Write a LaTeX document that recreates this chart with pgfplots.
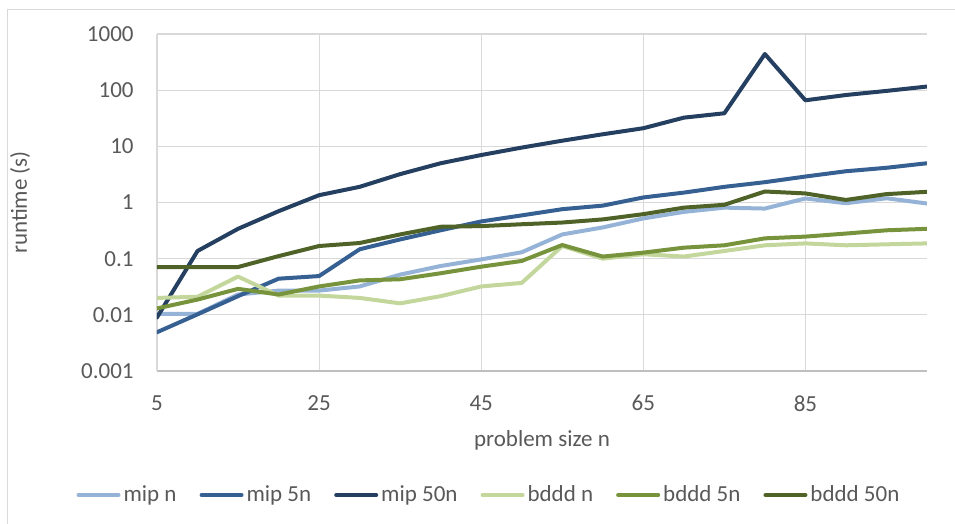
\documentclass[border=0pt]{standalone}
\usepackage{pgfplots}
\pgfplotsset{compat=1.18}
\usepackage{pgfplotstable}
\usepackage{fontspec}
\setmainfont{Carlito}
\definecolor{mipn}{HTML}{95B3D7}
\definecolor{mipfn}{HTML}{366092}
\definecolor{mipffn}{HTML}{243F60}
\definecolor{bdn}{HTML}{C3D69B}
\definecolor{bdfn}{HTML}{77933C}
\definecolor{bdffn}{HTML}{4F6228}
\definecolor{txt}{HTML}{595959}
\definecolor{grd}{HTML}{D9D9D9}
\definecolor{axl}{HTML}{BFBFBF}
\pgfplotstableread{
n mipn mipfn mipffn bdn bdfn bdffn
5 0.0104 0.0049 0.009 0.020 0.013 0.071
10 0.0104 0.0102 0.137 0.021 0.0187 0.071
15 0.023 0.0215 0.34 0.048 0.029 0.071
20 0.027 0.044 0.7 0.022 0.023 0.111
25 0.027 0.049 1.35 0.022 0.032 0.168
30 0.032 0.147 1.9 0.020 0.041 0.19
35 0.052 0.22 3.2 0.016 0.043 0.27
40 0.074 0.32 5.0 0.0215 0.055 0.37
45 0.097 0.46 7.0 0.032 0.072 0.38
50 0.13 0.59 9.5 0.037 0.091 0.41
55 0.27 0.76 12.6 0.168 0.175 0.44
60 0.36 0.88 16.4 0.10 0.109 0.50
65 0.52 1.23 21 0.12 0.128 0.62
70 0.68 1.5 32.4 0.109 0.157 0.81
75 0.81 1.9 38.8 0.137 0.173 0.91
80 0.78 2.3 440 0.173 0.23 1.57
85 1.18 2.9 66 0.187 0.247 1.45
90 0.97 3.6 82 0.173 0.28 1.11
95 1.19 4.15 97 0.18 0.32 1.41
100 0.96 5.0 116 0.187 0.34 1.55
}\data
\begin{document}
\begin{tikzpicture}[font=\fontsize{11.5pt}{13.8pt}\selectfont]
\useasboundingbox (-78.5pt,-76.5pt) rectangle (399pt,185.5pt);
\draw[grd, line width=0.5pt] (-74.5pt,-100pt) -- (-74.5pt,180.5pt) -- (420pt,180.5pt);
\begin{axis}[
  scale only axis,
  width=385pt, height=168.5pt,
  at={(0,0)}, anchor=south west,
  xmin=5, xmax=100,
  ymode=log, ymin=0.001, ymax=1000,
  xtick={5,25,45,65,85},
  ytick={0.001,0.01,0.1,1,10,100,1000},
  yticklabels={0.001,0.01,0.1,1,10,100,1000},
  /pgf/number format/assume math mode=true,
  grid=major,
  major grid style={grd, line width=0.6pt},
  minor tick num=0,
  major tick length=0pt,
  tick style={draw=none},
  axis x line*=bottom,
  axis y line*=left,
  x axis line style={axl, line width=0.6pt, -},
  y axis line style={grd, line width=0.6pt, -},
  ticklabel style={text=txt},
  yticklabel style={anchor=east, inner sep=0pt, xshift=-11.5pt},
  xticklabel style={anchor=north, inner sep=0pt, yshift=-12pt},
  xlabel={problem size n},
  ylabel={runtime (s)},
  xlabel style={text=txt, at={(axis description cs:0.5,0)}, anchor=center, yshift=-34.5pt},
  ylabel style={text=txt, at={(axis description cs:0,0.5)}, anchor=center, yshift=68.5pt},
  legend columns=6,
  legend style={at={(axis description cs:0.4318,0)}, anchor=center, yshift=-62pt,
    draw=none, fill=none, inner sep=0pt, text=txt,
    /tikz/every even column/.append style={column sep=10pt},
    nodes={inner xsep=1.5pt, inner ysep=0pt}},
  legend image code/.code={\draw[#1, line cap=round] (0pt,0pt) -- (20pt,0pt);},
  every axis plot/.append style={line width=2pt, line join=round, line cap=round, no markers},
]
\addplot[mipn] table[x=n, y=mipn] {\data};
\addlegendentry{mip n}
\addplot[mipfn] table[x=n, y=mipfn] {\data};
\addlegendentry{mip 5n}
\addplot[mipffn] table[x=n, y=mipffn] {\data};
\addlegendentry{mip 50n}
\addplot[bdn] table[x=n, y=bdn] {\data};
\addlegendentry{bddd n}
\addplot[bdfn] table[x=n, y=bdfn] {\data};
\addlegendentry{bddd 5n}
\addplot[bdffn] table[x=n, y=bdffn] {\data};
\addlegendentry{bddd 50n}
\end{axis}
\end{tikzpicture}
\end{document}
